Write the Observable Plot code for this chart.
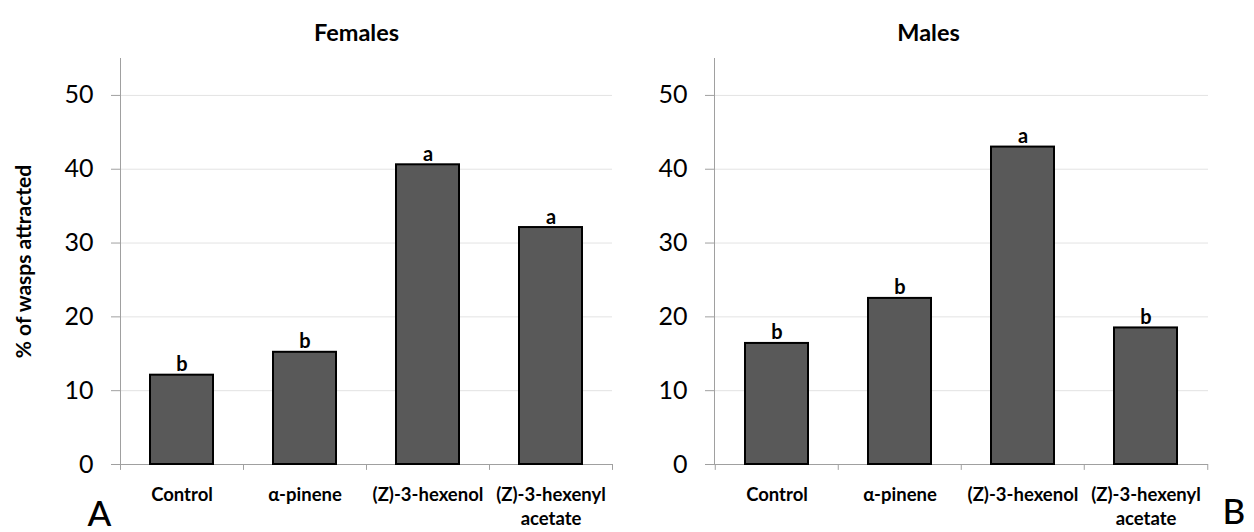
<!DOCTYPE html>
<html>
<head>
<meta charset="utf-8">
<script src="https://cdn.jsdelivr.net/npm/d3@7"></script>
<script src="https://cdn.jsdelivr.net/npm/@observablehq/plot@0.6"></script>
<style>
  html, body { margin: 0; padding: 0; background: #fff; }
  #wrap { display: flex; width: 1254px; height: 532px; }
</style>
</head>
<body>
<div id="wrap"></div>
<script>
const categories = ["Control", "α-pinene", "(Z)-3-hexenol", "(Z)-3-hexenyl\nacetate"];
const femaleValues = [12.1, 15.2, 40.6, 32.1];
const maleValues = [16.4, 22.5, 43.0, 18.5];
const femaleLetters = ["b", "b", "a", "a"];
const maleLetters = ["b", "b", "a", "b"];
const yTicks = [0, 10, 20, 30, 40, 50];
const yLabel = "% of wasps attracted";

function panel({title, values, letters, panelLetter, marginLeft, marginRight, showYLabel, titleDx}) {
  const data = categories.map((c, i) => ({cat: c, value: values[i], letter: letters[i]}));
  const width = 627;
  const step = (width - marginLeft - marginRight) / categories.length;
  const marks = [
    Plot.gridY(yTicks.filter(d => d > 0), {stroke: "#e3e3e3", strokeOpacity: 1}),
    Plot.frame({anchor: "left", stroke: "#a0a0a0"}),
    Plot.ruleY([0], {stroke: "#a0a0a0"}),
    Plot.ruleX(categories, {x: d => d, y1: 0, y2: -0.8, dx: -step / 2, stroke: "#a0a0a0"}),
    Plot.ruleX(categories.slice(-1), {x: d => d, y1: 0, y2: -0.8, dx: step / 2, stroke: "#a0a0a0"}),
    Plot.barY(data, {x: "cat", y: "value", fill: "#595959", stroke: "#000", strokeWidth: 2}),
    Plot.text(data, {x: "cat", y: "value", text: "letter", dy: -4, lineAnchor: "bottom", fontWeight: "bold", fontSize: 20, fill: "#000"}),
    Plot.axisY({ticks: yTicks, tickSize: 9, tickPadding: 18, fontSize: 25, stroke: "#a0a0a0", fill: "#000", label: null}),
    Plot.axisX({tickSize: 0, tickPadding: 19, fontSize: 18.5, fontWeight: "bold", lineHeight: 1.32, fill: "#000", label: null}),
    Plot.text([title], {frameAnchor: "top", dy: -34, dx: titleDx, fontWeight: "bold", fontSize: 23.5, fill: "#000"}),
    Plot.text([panelLetter.text], {frameAnchor: panelLetter.anchor, textAnchor: "start", dx: panelLetter.dx, dy: panelLetter.dy, lineAnchor: "bottom", fontSize: 35, fontWeight: 500, fill: "#000"})
  ];
  if (showYLabel) {
    marks.push(Plot.text([yLabel], {frameAnchor: "left", textAnchor: "middle", rotate: -90, dx: -96, fontWeight: "bold", fontSize: 21, fill: "#000"}));
  }
  return Plot.plot({
    width,
    height: 532,
    marginTop: 58,
    marginBottom: 68,
    marginLeft,
    marginRight,
    style: {fontFamily: "Lato, 'Open Sans', sans-serif", background: "#fff", overflow: "visible"},
    x: {domain: categories, paddingInner: 0.49, paddingOuter: 0.245},
    y: {domain: [0, 55]},
    marks
  });
}

const wrap = document.getElementById("wrap");
wrap.appendChild(panel({
  title: "Females", values: femaleValues, letters: femaleLetters,
  panelLetter: {text: "A", anchor: "bottom-left", dx: -33, dy: 61},
  marginLeft: 120, marginRight: 15, showYLabel: true, titleDx: -10
}));
wrap.appendChild(panel({
  title: "Males", values: maleValues, letters: maleLetters,
  panelLetter: {text: "B", anchor: "bottom-right", dx: 14, dy: 59},
  marginLeft: 87, marginRight: 46, showYLabel: false, titleDx: -33
}));
</script>
</body>
</html>
